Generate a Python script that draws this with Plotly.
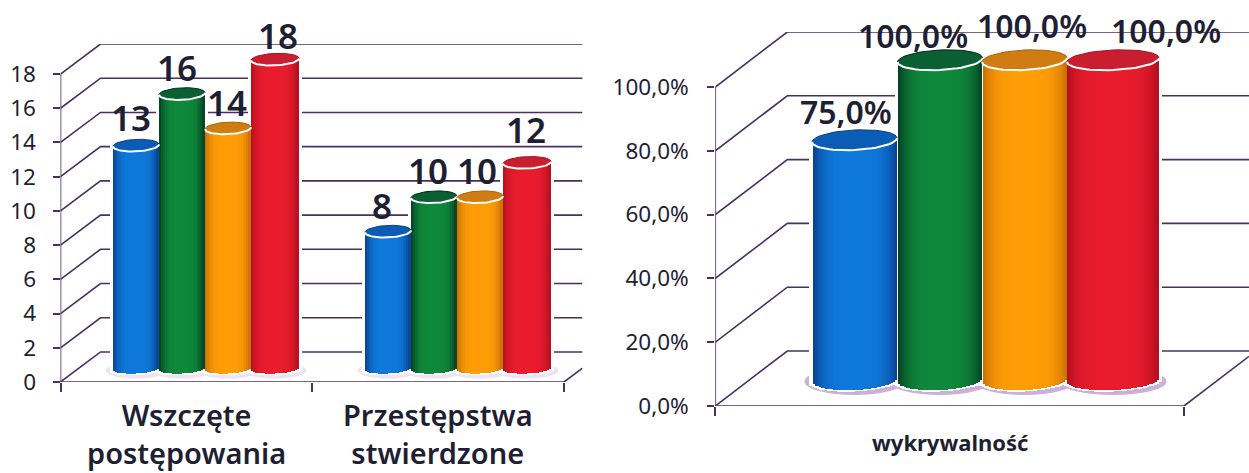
import math
import plotly.graph_objects as go

W, H = 1249, 473

# ---- data ----
categories_left = ["Wszczęte<br>postępowania", "Przestępstwa<br>stwierdzone"]
left_blue = [13, 8]
left_green = [16, 10]
left_orange = [14, 10]
left_red = [18, 12]
left_ticks = [0, 2, 4, 6, 8, 10, 12, 14, 16, 18]

categories_right = ["wykrywalność"]
right_blue = [75.0]
right_green = [100.0]
right_orange = [100.0]
right_red = [100.0]
right_ticks = [0, 20, 40, 60, 80, 100]

# ---- styles ----
INK = "#1f1f33"
GRID = "#4b2f63"
FONT = "Noto Sans"
PALETTE = [  # edge, centre, lid, lid outline
    ((8, 62, 140), (14, 120, 218), "#0a5cb4", "#073f8c"),
    ((4, 60, 34), (14, 136, 58), "#0a5f33", "#032a18"),
    ((196, 110, 4), (255, 156, 6), "#cf7d12", "#a86208"),
    ((178, 14, 32), (232, 28, 44), "#c91e30", "#a81020"),
]
STRIPS = 24


def mix(edge, centre, u):
    k = abs(u) ** 4
    return "rgb(%d,%d,%d)" % tuple(round(c + (e - c) * k) for e, c in zip(edge, centre))


fig = go.Figure()
shapes = []
annotations = []


def dom_x(a, b):
    return [a / W, b / W]


def dom_y(top, bottom):
    return [1 - bottom / H, 1 - top / H]


def add_frame(idx, x0, x_end, x_right, y0, y_back, ky, cat_px, ticks, ticktext, depth_px, standoff, cats, n):
    """Perspective box drawn on real axes: idx is the axis suffix number."""
    xa, ya = ("xaxis", "yaxis") if idx == 1 else (f"xaxis{idx}", f"yaxis{idx}")
    xr, yr = ("x", "y") if idx == 1 else (f"x{idx}", f"y{idx}")
    top_val = (y0 - y_back) / ky
    right_val = (x_right - x0) / cat_px
    fig.update_layout({
        xa: dict(domain=dom_x(x0, x_right), range=[0, right_val], anchor=yr, showgrid=False, zeroline=False,
                 showline=False, tickmode="array", tickvals=list(range(n + 1)), ticks="outside", ticklen=9,
                 tickcolor=GRID, tickwidth=1.5, showticklabels=False, automargin=False),
        ya: dict(domain=dom_y(y_back, y0), range=[0, top_val], anchor=xr, showgrid=False, zeroline=False,
                 showline=False, tickmode="array", tickvals=ticks, ticktext=ticktext, ticks="outside", ticklen=7,
                 tickcolor=GRID, tickwidth=1.5, ticklabelstandoff=standoff, automargin=False,
                 tickfont=dict(family=FONT, size=22.5, color=INK)),
    })
    dx, dy = depth_px / cat_px, (y0 - y_back - (ticks[-1] * ky)) / ky
    line = dict(color=GRID, width=1.6)
    for v in ticks:
        fig.add_trace(go.Scatter(x=[0, dx, right_val], y=[v, v + dy, v + dy], mode="lines", line=line,
                                 xaxis=xr, yaxis=yr, hoverinfo="skip", showlegend=False, cliponaxis=False))
    fig.add_trace(go.Scatter(x=[0, 0], y=[0, ticks[-1]], mode="lines", line=line, xaxis=xr, yaxis=yr,
                             hoverinfo="skip", showlegend=False))
    fig.add_trace(go.Scatter(x=[0, n], y=[0, 0], mode="lines", line=line, xaxis=xr, yaxis=yr,
                             hoverinfo="skip", showlegend=False, cliponaxis=False))
    tail = right_val - n
    fig.add_trace(go.Scatter(x=[n, right_val], y=[0, tail / dx * dy], mode="lines", line=line, xaxis=xr, yaxis=yr,
                             hoverinfo="skip", showlegend=False))


def strips(c, w, h, tilt, value, kx, ky, n, extra_low=0.0):
    xs, base, ht = [], [], []
    for i in range(n):
        u = -1 + (2 * i + 1) / n
        xs.append(c + u * w / 2 / kx)
        b = (-h * math.sqrt(max(0, 1 - u * u)) + tilt * u - extra_low) / ky
        base.append(b)
        ht.append(value - b)
    return xs, base, ht


def add_cylinders(idx, group_px, zero_py, kx_px, ky, offsets_px, widths_px, series, h_top, h_base, tilt, halo, shadow, lbl_shift, fmt, lbl_size):
    xr, yr = f"x{idx}", f"y{idx}"
    fig.update_layout({
        f"xaxis{idx}": dict(domain=[0, 1], range=[-group_px / kx_px, (W - group_px) / kx_px], anchor=yr, visible=False, automargin=False),
        f"yaxis{idx}": dict(domain=[0, 1], range=[(zero_py - H) / ky, zero_py / ky], anchor=xr, visible=False, automargin=False),
    })
    groups = len(series[0])
    # shadows under the cylinders
    for s, vals in enumerate(series):
        for g in range(groups):
            c = g + offsets_px[s] / kx_px
            r = (widths_px[s] / 2 + 8) / kx_px
            shapes.append(dict(type="circle", layer="below", xref=xr, yref=yr, line=dict(width=0), fillcolor=shadow,
                               x0=c - r, x1=c + r, y0=-(h_base + 5) / ky, y1=(h_base + 2) / ky))
    # white halo behind every cylinder
    for s, vals in enumerate(series):
        for g, v in enumerate(vals):
            c = g + offsets_px[s] / kx_px
            n = max(8, round((widths_px[s] + halo) / 2.5))
            xs, base, ht = strips(c, widths_px[s] + halo, h_base, tilt, v, kx_px, ky, n, extra_low=1.5)
            fig.add_trace(go.Bar(x=xs, y=ht, base=base, width=(widths_px[s] + halo) / n / kx_px, xaxis=xr, yaxis=yr,
                                 marker=dict(color="#ffffff", line=dict(width=0)), hoverinfo="skip", showlegend=False))
    # bodies: narrow strips carry the side-to-side shading
    for s, vals in enumerate(series):
        edge, centre, lid, lid_line = PALETTE[s]
        n = max(STRIPS, round(widths_px[s] / 2))
        for g, v in enumerate(vals):
            c = g + offsets_px[s] / kx_px
            xs, base, ht = strips(c, widths_px[s], h_base, tilt, v, kx_px, ky, n)
            cols = [mix(edge, centre, -1 + (2 * i + 1) / n) for i in range(n)]
            fig.add_trace(go.Bar(x=xs, y=ht, base=base, width=widths_px[s] / n / kx_px, xaxis=xr, yaxis=yr,
                                 marker=dict(color=cols, line=dict(width=0)), hoverinfo="y", showlegend=False))
    # lids
    for s, vals in enumerate(series):
        edge, centre, lid, lid_line = PALETTE[s]
        for g, v in enumerate(vals):
            c = g + offsets_px[s] / kx_px
            a = widths_px[s] / 2 + 0.5
            ang = [i * math.pi / 30 for i in range(61)]
            ex = [c + a * math.cos(t) / kx_px for t in ang]
            ey = [v + (h_top * math.sin(t) + tilt * math.cos(t)) / ky for t in ang]
            fig.add_trace(go.Scatter(x=ex, y=ey, mode="lines", fill="toself", fillcolor=lid,
                                     line=dict(color=lid_line, width=1), xaxis=xr, yaxis=yr,
                                     hoverinfo="skip", showlegend=False))
            arc = [math.pi + i * math.pi / 30 for i in range(31)]
            fig.add_trace(go.Scatter(x=[c + a * math.cos(t) / kx_px for t in arc],
                                     y=[v + (h_top * math.sin(t) + tilt * math.cos(t)) / ky for t in arc],
                                     mode="lines", line=dict(color="#ffffff", width=2), xaxis=xr, yaxis=yr,
                                     hoverinfo="skip", showlegend=False))
            sx, sy = lbl_shift[s][g]
            annotations.append(dict(text=fmt(v), xref=xr, yref=yr, x=c, y=v, xshift=sx, yshift=sy, showarrow=False,
                                    xanchor="center", yanchor="middle",
                                    font=dict(family=FONT, size=lbl_size, color=INK, weight=600)))


# ---- left chart ----
add_frame(1, 60.5, 564, 582.5, 382, 44, 17.11, 251.75, left_ticks, [str(t) for t in left_ticks], 40, 12,
          categories_left, 2)
add_cylinders(2, 205, 369, 252, 17.2, [-69, -23, 23, 70], [45, 45, 45, 47],
              [left_blue, left_green, left_orange, left_red], 6, 4.5, 1, 7, "#ece4f2",
              [[(-5, 28), (-6, 26)], [(-5, 26), (-6, 27)], [(-1, 26), (-3, 27)], [(3, 24), (-1, 33)]],
              lambda v: str(v), 35)

# ---- right chart ----
add_frame(3, 715.3, 1184, 1249, 406, 32, 3.19, 468.7, right_ticks, [f"{t},0%" for t in right_ticks], 72, 14,
          categories_right, 1)
add_cylinders(4, 984, 380, 300, 3.2, [-129.5, -44, 40.5, 129], [84, 84, 84, 91],
              [right_blue, right_green, right_orange, right_red], 10, 10, 2, 7, "#cdb0d8",
              [[(-9, 29)], [(-27, 25)], [(7.5, 35)], [(53, 30)]],
              lambda v: f"{v:.1f}".replace(".", ",") + "%", 32)

# ---- category captions ----
for i, cat in enumerate(categories_left):
    annotations.append(dict(text=cat, xref="x", yref="paper", x=i + 0.5, y=1 - 433.5 / H, showarrow=False,
                            xanchor="center", yanchor="middle",
                            font=dict(family=FONT, size=29, color=INK, weight=600)))
annotations.append(dict(text=categories_right[0], xref="x3", yref="paper", x=0.5, y=1 - 442 / H, showarrow=False,
                        xanchor="center", yanchor="middle",
                        font=dict(family=FONT, size=22, color=INK, weight=700)))

fig.update_layout(width=W, height=H, autosize=False, margin=dict(l=0, r=0, t=0, b=0), paper_bgcolor="#ffffff",
                  plot_bgcolor="rgba(0,0,0,0)", barmode="overlay", showlegend=False, shapes=shapes,
                  annotations=annotations, bargap=0)

fig.write_html("out.html", config=dict(displayModeBar=False),
               post_script="document.body.style.margin='0';document.body.style.overflow='hidden';")
